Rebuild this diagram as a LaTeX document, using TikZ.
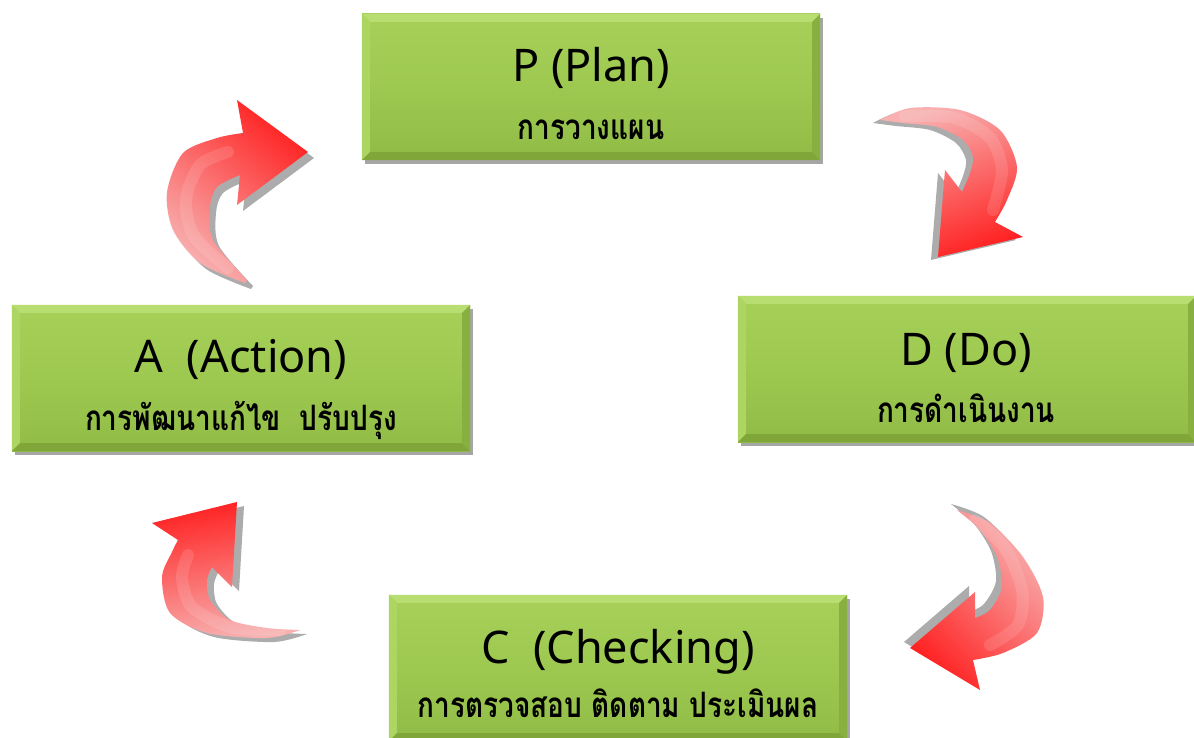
\documentclass[tikz,border=0pt]{standalone}
\usepackage{fontspec}
\usepackage{graphicx}
\setmainfont{Noto Sans}
\newfontfamily\thaifont[Script=Thai]{Loma}
\usetikzlibrary{shadows}
\definecolor{gmid}{RGB}{158,201,80}
\definecolor{gtop}{RGB}{166,208,88}
\definecolor{gbot}{RGB}{144,187,70}
\definecolor{bevT}{RGB}{184,221,112}
\definecolor{bevL}{RGB}{172,213,98}
\definecolor{bevB}{RGB}{128,166,58}
\definecolor{bevR}{RGB}{136,176,64}
\definecolor{pinkc}{RGB}{248,176,176}
\definecolor{redc}{RGB}{255,34,34}
\definecolor{shadc}{RGB}{172,172,172}
\newcommand\thtxt[1]{\scalebox{0.8}[1]{#1}}
\newcommand\bevelize[1]{%
 \fill[bevT] (#1.north west) -- (#1.north east) -- ([shift={(-8,8)}]#1.north east) -- ([shift={(8,8)}]#1.north west) -- cycle;
 \fill[bevL] (#1.north west) -- ([shift={(8,8)}]#1.north west) -- ([shift={(8,-8)}]#1.south west) -- (#1.south west) -- cycle;
 \fill[bevB] (#1.south west) -- ([shift={(8,-8)}]#1.south west) -- ([shift={(-8,-8)}]#1.south east) -- (#1.south east) -- cycle;
 \fill[bevR] (#1.north east) -- (#1.south east) -- ([shift={(-8,-8)}]#1.south east) -- ([shift={(-8,8)}]#1.north east) -- cycle;
}
\newcommand\arrowone{(245,283) -- plot[smooth] coordinates {(245,283) (200,263) (173,230) (167,192) (183,153) (217,138) (243,133)} -- (237,100) -- (308,152) -- (237,205) -- (240,175) -- plot[smooth] coordinates {(240,175) (217,187) (210,207) (213,240) (247,280)} -- cycle}
\newcommand\arrowtwo{(880,120) -- plot[smooth] coordinates {(880,120) (910,108) (960,110) (1000,130) (1017,167) (1007,200) (995,222)} -- (1023,237) -- (938,257) -- (945,170) -- (962,192) -- plot[smooth] coordinates {(962,192) (970,173) (973,157) (963,140) (937,127) (903,123) (880,120)} -- cycle}
\newcommand\arrowthree{(957,510) -- plot[smooth] coordinates {(957,510) (990,523) (1023,557) (1043,597) (1037,633) (1003,653) (973,660)} -- (980,690) -- (910,648) -- (975,592) -- (975,618) -- plot[smooth] coordinates {(975,618) (990,610) (1002,587) (997,557) (980,530) (957,510)} -- cycle}
\newcommand\arrowfour{(300,630) -- plot[smooth] coordinates {(300,630) (267,638) (207,633) (170,613) (162,577) (172,552) (178,540)} -- (152,523) -- (237,502) -- (232,587) -- (212,567) -- plot[smooth] coordinates {(212,567) (207,580) (210,600) (230,620) (267,628) (300,630)} -- cycle}
\begin{document}
\begin{tikzpicture}[x=1pt,y=-1pt,
  gbox/.style={rectangle, minimum width=458pt, minimum height=146pt, inner sep=0pt,
    top color=gtop, bottom color=gbot, middle color=gmid,
    drop shadow={shadow xshift=3pt, shadow yshift=-4pt, fill=black, opacity=.35}},
  lat/.style={font=\fontsize{45}{50}\selectfont, text=black, inner sep=0pt, anchor=base},
  thai/.style={font=\thaifont\bfseries\fontsize{35}{40}\selectfont, text=black, inner sep=0pt, anchor=base},
  hl/.style={white, line cap=round, line join=round},
]
\useasboundingbox (0,0) rectangle (1194,738);
\fill[white] (0,0) rectangle (1194,738);
% boxes
\node[gbox] (P) at (591,87) {};
\bevelize{P}
\node[gbox] (D) at (967,369) {};
\bevelize{D}
\node[gbox] (A) at (241,378) {};
\bevelize{A}
\node[gbox] (C) at (618,668) {};
\bevelize{C}
% texts
\node[lat] (Pl) at (591,82) {P (Plan)};
\node[thai] (Pt) at (591,140) {\thtxt{การวางแผน}};
\node[lat] (Dl) at (966,365) {D (Do)};
\node[thai] (Dt) at (966,422) {\thtxt{การดำเนินงาน}};
\node[lat] (Al) at (241,372) {A~~(Action)};
\node[thai] (At) at (241,430) {\thtxt{การพัฒนาแก้ไข~~ปรับปรุง}};
\node[lat] (Cl) at (618,663) {C~~(Checking)};
\node[thai] (Ct) at (618,717) {\thtxt{การตรวจสอบ ติดตาม ประเมินผล}};
% arrows
\begin{scope}[shift={(6,6)}] \fill[shadc] \arrowone; \end{scope}
\shade[top color=redc, bottom color=pinkc, shading angle=-40] \arrowone;
\draw[hl, line width=12pt, opacity=.12] plot[smooth] coordinates {(228,268) (194,236) (186,200) (200,165) (228,152)};

\begin{scope}[shift={(-7,3)}] \fill[shadc] \arrowtwo; \end{scope}
\shade[top color=pinkc, bottom color=redc, shading angle=20] \arrowtwo;
\draw[hl, line width=12pt, opacity=.12] plot[smooth] coordinates {(905,116) (955,118) (990,138) (1002,170) (993,210)};

\begin{scope}[shift={(-6,-6)}] \fill[shadc] \arrowthree; \end{scope}
\shade[top color=pinkc, bottom color=redc, shading angle=-45] \arrowthree;
\draw[hl, line width=12pt, opacity=.12] plot[smooth] coordinates {(975,520) (1005,548) (1022,590) (1018,625) (990,645)};

\begin{scope}[shift={(7,4)}] \fill[shadc] \arrowfour; \end{scope}
\shade[top color=redc, bottom color=pinkc, shading angle=10] \arrowfour;
\draw[hl, line width=12pt, opacity=.12] plot[smooth] coordinates {(280,630) (230,627) (192,607) (182,578) (188,555)};
\end{tikzpicture}
\end{document}
